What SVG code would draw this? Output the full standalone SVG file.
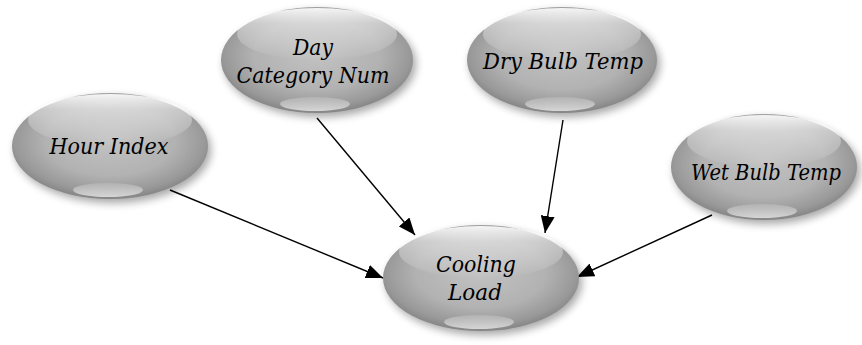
<svg xmlns="http://www.w3.org/2000/svg" width="862" height="345" viewBox="0 0 862 345">
<style>
.body{fill:url(#bodyGrad)}
.shadow{fill:#000;opacity:0.35;filter:url(#blur)}
.hi{fill:url(#hiGrad)}
.lo{fill:url(#loGrad)}
.lbl{font-family:"DejaVu Serif","Liberation Serif",serif;font-style:italic;font-size:23px;fill:#000;text-anchor:middle}
.edge{stroke:#000;stroke-width:1.4;fill:none;marker-end:url(#arrow)}
</style>
<defs>
<radialGradient id="bodyGrad" cx="0.5" cy="0.45" r="0.55">
<stop offset="0" stop-color="#c2c2c2"/>
<stop offset="0.6" stop-color="#b2b2b2"/>
<stop offset="0.88" stop-color="#999"/>
<stop offset="1" stop-color="#858585"/>
</radialGradient>
<linearGradient id="hiGrad" x1="0" y1="0" x2="0" y2="1">
<stop offset="0" stop-color="#fff" stop-opacity="0.9"/>
<stop offset="0.3" stop-color="#fff" stop-opacity="0.45"/>
<stop offset="1" stop-color="#fff" stop-opacity="0"/>
</linearGradient>
<linearGradient id="loGrad" x1="0" y1="0" x2="0" y2="1">
<stop offset="0" stop-color="#fff" stop-opacity="0.15"/>
<stop offset="1" stop-color="#fff" stop-opacity="0.65"/>
</linearGradient>
<filter id="blur" x="-20%" y="-20%" width="140%" height="140%">
<feGaussianBlur stdDeviation="4"/>
</filter>
<marker id="arrow" markerUnits="userSpaceOnUse" markerWidth="18" markerHeight="14" refX="17" refY="7" orient="auto">
<path d="M0,0 L17,7 L0,14 z" fill="#000"/>
</marker>
</defs>

<g id="connectors">
<line class="edge" x1="170" y1="190" x2="383" y2="278"/>
<line class="edge" x1="317" y1="118" x2="415" y2="235"/>
<line class="edge" x1="563" y1="120" x2="545" y2="233"/>
<line class="edge" x1="712" y1="215" x2="577" y2="277"/>
</g>

<g id="node-hour-index">
<ellipse class="shadow" cx="113" cy="150" rx="98" ry="53"/>
<ellipse class="body" cx="110" cy="146" rx="98" ry="53"/>
<ellipse class="hi" cx="110" cy="120" rx="82" ry="26"/>
<ellipse class="lo" cx="108" cy="190" rx="35" ry="7"/>
<text class="lbl" x="109" y="154" textLength="119" lengthAdjust="spacingAndGlyphs">Hour Index</text>
</g>

<g id="node-day-category">
<ellipse class="shadow" cx="320" cy="64" rx="96" ry="53"/>
<ellipse class="body" cx="317" cy="60" rx="96" ry="53"/>
<ellipse class="hi" cx="317" cy="34" rx="80" ry="26"/>
<ellipse class="lo" cx="315" cy="104" rx="35" ry="7"/>
<text class="lbl" x="313" y="55" textLength="40" lengthAdjust="spacingAndGlyphs">Day</text>
<text class="lbl" x="313" y="83" textLength="153" lengthAdjust="spacingAndGlyphs">Category Num</text>
</g>

<g id="node-dry-bulb">
<ellipse class="shadow" cx="565" cy="64" rx="95" ry="53"/>
<ellipse class="body" cx="562" cy="60" rx="95" ry="53"/>
<ellipse class="hi" cx="562" cy="34" rx="79" ry="26"/>
<ellipse class="lo" cx="560" cy="104" rx="35" ry="7"/>
<text class="lbl" x="563" y="69" textLength="160" lengthAdjust="spacingAndGlyphs">Dry Bulb Temp</text>
</g>

<g id="node-wet-bulb">
<ellipse class="shadow" cx="767" cy="171" rx="93" ry="53"/>
<ellipse class="body" cx="764" cy="167" rx="93" ry="53"/>
<ellipse class="hi" cx="764" cy="141" rx="77" ry="26"/>
<ellipse class="lo" cx="762" cy="211" rx="35" ry="7"/>
<text class="lbl" x="766" y="180" textLength="150" lengthAdjust="spacingAndGlyphs">Wet Bulb Temp</text>
</g>

<g id="node-cooling-load">
<ellipse class="shadow" cx="484" cy="282" rx="98" ry="53"/>
<ellipse class="body" cx="481" cy="278" rx="98" ry="53"/>
<ellipse class="hi" cx="481" cy="252" rx="82" ry="26"/>
<ellipse class="lo" cx="479" cy="322" rx="35" ry="7"/>
<text class="lbl" x="476" y="272" textLength="80" lengthAdjust="spacingAndGlyphs">Cooling</text>
<text class="lbl" x="475" y="300" textLength="54" lengthAdjust="spacingAndGlyphs">Load</text>
</g>
</svg>
